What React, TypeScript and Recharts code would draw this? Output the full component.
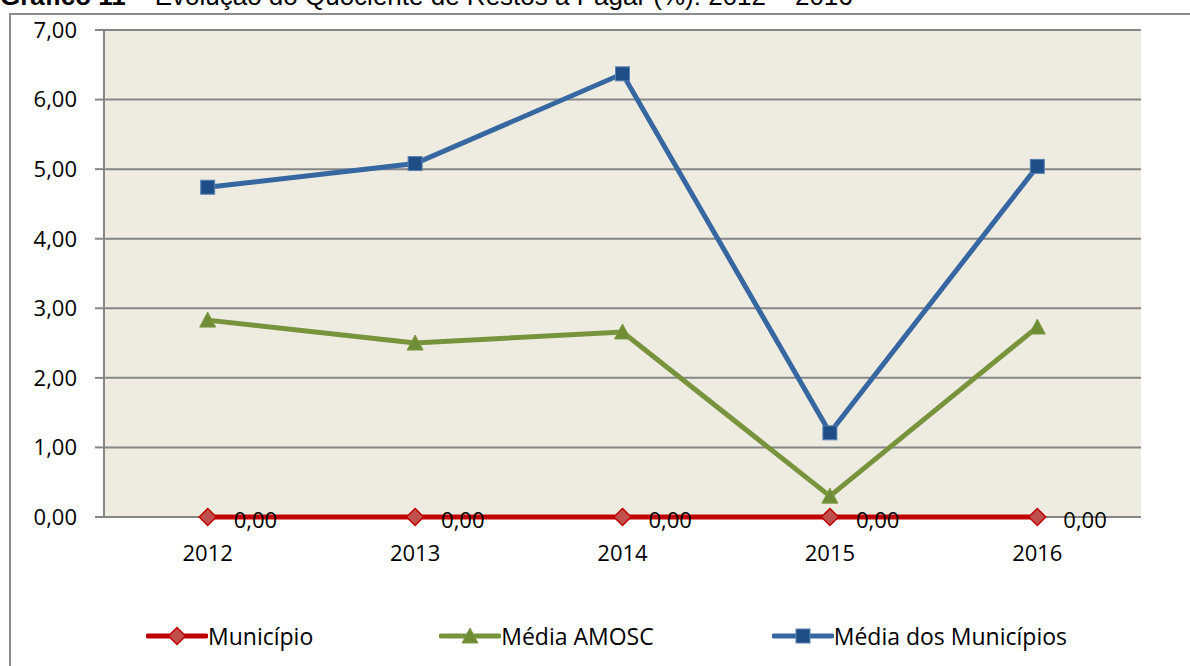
import React from 'react';
import { LineChart, Line, XAxis, YAxis, CartesianGrid, Legend, LabelList } from 'recharts';

const years = ['2012', '2013', '2014', '2015', '2016'];
const municipio = [0, 0, 0, 0, 0];
const mediaAmosc = [2.83, 2.5, 2.66, 0.3, 2.73];
const mediaMunicipios = [4.74, 5.08, 6.37, 1.21, 5.04];
const yTicks = [0, 1, 2, 3, 4, 5, 6, 7];

const data = years.map((year, i) => ({
  year,
  municipio: municipio[i],
  amosc: mediaAmosc[i],
  media: mediaMunicipios[i],
}));

const fmt = (v: number) => v.toFixed(2).replace('.', ',');
const FONT = '"Open Sans", sans-serif';

const RED = '#c00000';
const GREEN = '#77933c';
const BLUE = '#3767a0';

const Diamond = (props: any) => {
  const { cx, cy } = props;
  if (cx == null || cy == null) return null;
  const r = 8.5;
  return (
    <polygon
      points={`${cx},${cy - r} ${cx + r},${cy} ${cx},${cy + r} ${cx - r},${cy}`}
      fill="#c0504d"
      stroke={RED}
      strokeWidth={1.5}
    />
  );
};

const Triangle = (props: any) => {
  const { cx, cy } = props;
  if (cx == null || cy == null) return null;
  return (
    <polygon
      points={`${cx},${cy - 8} ${cx + 8},${cy + 7} ${cx - 8},${cy + 7}`}
      fill="#6f8d35"
      stroke="#7d9a45"
      strokeWidth={1}
    />
  );
};

const Square = (props: any) => {
  const { cx, cy } = props;
  if (cx == null || cy == null) return null;
  return <rect x={cx - 7} y={cy - 7} width={14} height={14} fill="#1f4e87" stroke="#5a82b4" strokeWidth={1} />;
};

const legendItems = [
  { label: 'Município', color: RED, marker: 'diamond', gap: 126 },
  { label: 'Média AMOSC', color: GREEN, marker: 'triangle', gap: 118 },
  { label: 'Média dos Municípios', color: BLUE, marker: 'square', gap: 0 },
];

const LegendContent = () => (
  <div style={{ display: 'flex', alignItems: 'center', paddingLeft: 146, fontFamily: FONT, fontSize: 23, color: '#000' }}>
    {legendItems.map((it) => (
      <div key={it.label} style={{ display: 'flex', alignItems: 'center', marginRight: it.gap }}>
        <svg width={62} height={22}>
          <line x1={2} y1={11} x2={60} y2={11} stroke={it.color} strokeWidth={5} strokeLinecap="round" />
          {it.marker === 'diamond' && <Diamond cx={31} cy={11} />}
          {it.marker === 'triangle' && <Triangle cx={31} cy={11} />}
          {it.marker === 'square' && <Square cx={31} cy={11} />}
        </svg>
        <span style={{ lineHeight: '22px' }}>{it.label}</span>
      </div>
    ))}
  </div>
);

export default function App() {
  return (
    <div style={{ position: 'absolute', left: 0, top: 0, width: 1190, height: 666, overflow: 'hidden', background: '#fff' }}>
      <div
        style={{
          position: 'absolute',
          left: 0,
          top: -17,
          fontFamily: '"Liberation Sans", Arial, sans-serif',
          fontSize: 26,
          lineHeight: '26px',
          whiteSpace: 'nowrap',
        }}
      >
        <b>Gráfico 11</b> – Evolução do Quociente de Restos a Pagar (%): 2012 – 2016
      </div>
      <div
        style={{
          position: 'absolute',
          left: 9,
          top: 13,
          width: 1300,
          height: 700,
          borderLeft: '2px solid #8c8c8c',
          borderTop: '2px solid #8c8c8c',
        }}
      />
      <div style={{ position: 'absolute', left: 0, top: 0 }}>
        <LineChart width={1190} height={666} data={data} margin={{ top: 30, right: 49, left: 14, bottom: 119 }}>
          <CartesianGrid vertical={false} fill="#eeece1" stroke="#868686" strokeWidth={2} />
          <XAxis
            dataKey="year"
            height={30}
            padding={{ left: 103.7, right: 103.7 }}
            tickLine={false}
            axisLine={false}
            tickSize={8}
            tickMargin={20}
            tick={{ fill: '#000', fontSize: 22, fontFamily: FONT }}
          />
          <YAxis
            width={90}
            domain={[0, 7]}
            ticks={yTicks}
            interval={0}
            tickFormatter={fmt}
            axisLine={{ stroke: '#868686', strokeWidth: 2 }}
            tickLine={{ stroke: '#868686', strokeWidth: 2 }}
            tickSize={9}
            tickMargin={18}
            tick={{ fill: '#000', fontSize: 22, fontFamily: FONT }}
          />
          <Legend
            verticalAlign="middle"
            align="center"
            layout="horizontal"
            content={<LegendContent />}
            wrapperStyle={{ top: 625, left: 0, width: 1190 }}
          />
          <Line dataKey="media" stroke={BLUE} strokeWidth={5} dot={<Square />} activeDot={false} isAnimationActive={false} />
          <Line dataKey="amosc" stroke={GREEN} strokeWidth={5} dot={<Triangle />} activeDot={false} isAnimationActive={false} />
          <Line dataKey="municipio" stroke={RED} strokeWidth={5} dot={<Diamond />} activeDot={false} isAnimationActive={false}>
            <LabelList
              dataKey="municipio"
              position="right"
              offset={26}
              dy={3}
              formatter={(v: any) => fmt(Number(v))}
              style={{ fill: '#000', fontSize: 22, fontFamily: FONT }}
            />
          </Line>
        </LineChart>
      </div>
    </div>
  );
}
